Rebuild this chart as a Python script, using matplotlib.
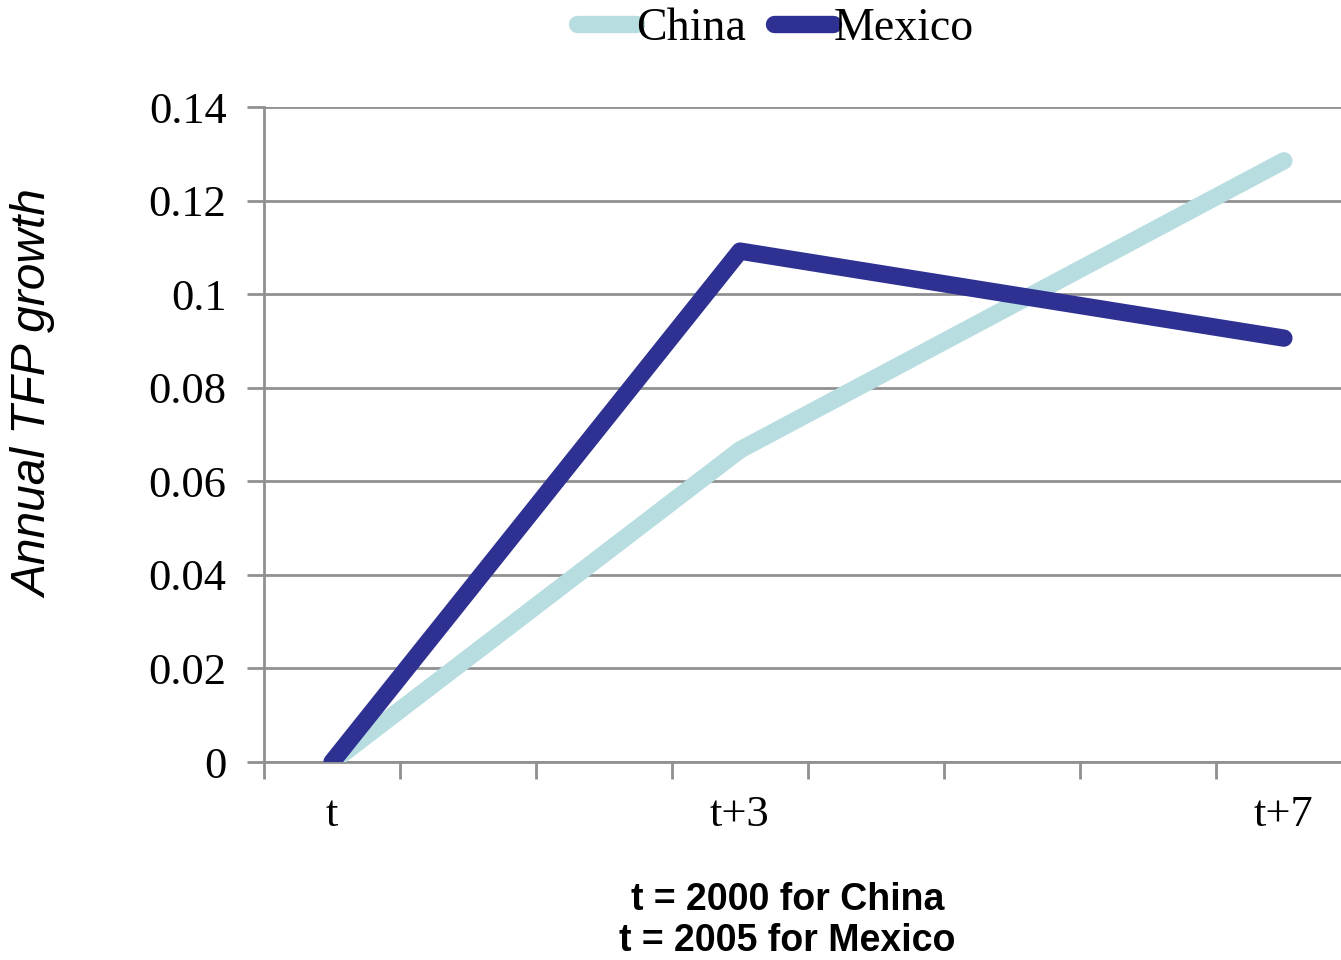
import matplotlib
matplotlib.use("Agg")
import matplotlib.pyplot as plt

periods = [0, 3, 7]
period_labels = ["t", "t+3", "t+7"]
china = [0.0, 0.0667, 0.1285]
mexico = [0.0, 0.1092, 0.0906]
yticks = [0, 0.02, 0.04, 0.06, 0.08, 0.1, 0.12, 0.14]
ytick_labels = ["0", "0.02", "0.04", "0.06", "0.08", "0.1", "0.12", "0.14"]

fig = plt.figure(figsize=(13.41, 9.6), dpi=100)
ax = fig.add_axes([0.1969, 0.20625, 0.8031, 0.68229])

ax.plot(periods, china, color="#B7DDE0", lw=12.5, solid_capstyle="round",
        solid_joinstyle="round", label="China", zorder=3)
ax.plot(periods, mexico, color="#2E3192", lw=12.5, solid_capstyle="round",
        solid_joinstyle="round", label="Mexico", zorder=4)

# category ticks at the points, boundary ticks in between
ax.set_xticks(periods)
ax.set_xticklabels(period_labels, fontfamily="Liberation Serif", fontsize=32)
ax.set_xticks([x - 0.5 for x in range(9)], minor=True)
ax.tick_params(axis="x", which="major", length=0, pad=24)
ax.tick_params(axis="x", which="minor", length=12, width=2, color="#909090",
               direction="out")

ax.set_yticks(yticks)
ax.set_yticklabels(ytick_labels, fontfamily="Liberation Serif", fontsize=32)
ax.tick_params(axis="y", length=12, width=2, color="#909090", pad=15)
ax.yaxis.grid(True, color="#909090", lw=2)
ax.set_axisbelow(True)

ax.set_xlim(-0.5, 7.42)
ax.set_ylim(0, 0.14)

for side in ["top", "right"]:
    ax.spines[side].set_visible(False)
for side in ["left", "bottom"]:
    ax.spines[side].set_color("#909090")
    ax.spines[side].set_linewidth(2)

fig.text(0.026, 0.59, "Annual TFP growth", rotation=90, ha="center",
         va="center", fontfamily="Liberation Sans", style="italic", fontsize=34.5)
fig.text(0.5873, 0.0411, "t = 2000 for China\nt = 2005 for Mexico",
         ha="center", va="center", fontfamily="Liberation Sans",
         fontweight="bold", fontsize=27, linespacing=1.2)

leg = fig.legend(loc="upper center", bbox_to_anchor=(0.578, 1.035), ncol=2,
                 frameon=False, handlelength=1.3, handletextpad=0.0,
                 columnspacing=0.6, prop={"family": "Liberation Serif", "size": 33})

fig.savefig("out.png", dpi=100)
